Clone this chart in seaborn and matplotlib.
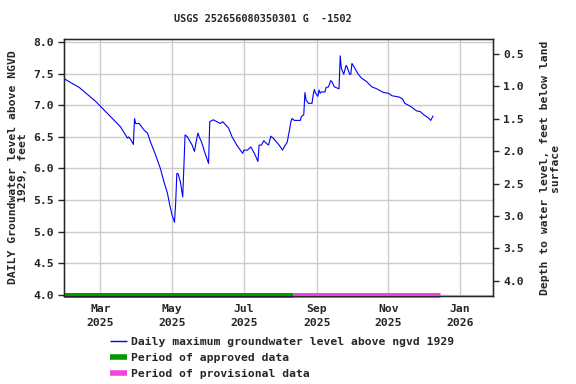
import matplotlib

matplotlib.use("Agg")
import matplotlib.dates as mdates
import matplotlib.pyplot as plt
import pandas as pd
import seaborn as sns
from matplotlib.lines import Line2D

# Daily maximum groundwater level (ft above NGVD 1929)
dates = [
    "2025-01-29", "2025-02-11", "2025-02-25", "2025-03-08", "2025-03-18",
    "2025-03-23", "2025-03-24", "2025-03-25", "2025-03-27", "2025-03-29",
    "2025-03-30", "2025-03-31", "2025-04-03", "2025-04-07", "2025-04-10",
    "2025-04-13", "2025-04-17", "2025-04-21", "2025-04-24", "2025-04-27",
    "2025-04-29", "2025-05-01", "2025-05-03", "2025-05-04", "2025-05-05",
    "2025-05-06", "2025-05-08", "2025-05-10", "2025-05-11", "2025-05-12",
    "2025-05-14", "2025-05-18", "2025-05-20", "2025-05-22", "2025-05-23",
    "2025-05-24", "2025-05-26", "2025-05-29", "2025-06-01", "2025-06-02",
    "2025-06-05", "2025-06-08", "2025-06-11", "2025-06-13", "2025-06-15",
    "2025-06-18", "2025-06-21", "2025-06-25", "2025-06-28", "2025-06-30",
    "2025-07-01", "2025-07-04", "2025-07-07", "2025-07-10", "2025-07-13",
    "2025-07-14", "2025-07-16", "2025-07-18", "2025-07-20", "2025-07-22",
    "2025-07-24", "2025-07-26", "2025-07-31", "2025-08-03", "2025-08-04",
    "2025-08-07", "2025-08-08", "2025-08-09", "2025-08-10", "2025-08-11",
    "2025-08-13", "2025-08-18", "2025-08-19", "2025-08-21", "2025-08-22",
    "2025-08-23", "2025-08-25", "2025-08-28", "2025-08-29", "2025-08-30",
    "2025-08-31", "2025-09-02", "2025-09-03", "2025-09-04", "2025-09-05",
    "2025-09-08", "2025-09-09", "2025-09-11", "2025-09-13", "2025-09-14",
    "2025-09-16", "2025-09-20", "2025-09-21", "2025-09-22", "2025-09-24",
    "2025-09-26", "2025-09-27", "2025-09-29", "2025-09-30", "2025-10-01",
    "2025-10-03", "2025-10-06", "2025-10-09", "2025-10-13", "2025-10-18",
    "2025-10-22", "2025-10-28", "2025-11-01", "2025-11-04", "2025-11-10",
    "2025-11-13", "2025-11-15", "2025-11-20", "2025-11-25", "2025-11-28",
    "2025-12-01", "2025-12-05", "2025-12-07", "2025-12-09",
]
levels = [
    7.42, 7.28, 7.06, 6.85, 6.66,
    6.51, 6.48, 6.50, 6.45, 6.38,
    6.79, 6.71, 6.71, 6.61, 6.56,
    6.40, 6.21, 6.00, 5.79, 5.61,
    5.42, 5.26, 5.15, 5.45, 5.92,
    5.92, 5.79, 5.55, 6.03, 6.53,
    6.50, 6.37, 6.27, 6.48, 6.56,
    6.50, 6.42, 6.24, 6.08, 6.74,
    6.77, 6.74, 6.71, 6.74, 6.70,
    6.64, 6.50, 6.37, 6.29, 6.24,
    6.29, 6.29, 6.34, 6.24, 6.11,
    6.37, 6.37, 6.44, 6.40, 6.37,
    6.51, 6.48, 6.37, 6.29, 6.33,
    6.42, 6.53, 6.62, 6.74, 6.79,
    6.76, 6.76, 6.82, 6.85, 7.20,
    7.08, 7.03, 7.03, 7.16, 7.25,
    7.19, 7.14, 7.24, 7.19, 7.21,
    7.21, 7.28, 7.29, 7.39, 7.37,
    7.29, 7.26, 7.78, 7.58, 7.49,
    7.63, 7.60, 7.49, 7.49, 7.66,
    7.60, 7.50, 7.43, 7.38, 7.29,
    7.26, 7.20, 7.19, 7.15, 7.13,
    7.10, 7.03, 6.98, 6.91, 6.90,
    6.85, 6.80, 6.76, 6.83,
]

approved_period = ["2025-01-29", "2025-08-12"]
provisional_period = ["2025-08-12", "2025-12-15"]

x_start, x_end = "2025-01-29", "2026-01-29"
x_ticks = ["2025-03-01", "2025-05-01", "2025-07-01", "2025-09-01", "2025-11-01", "2026-01-01"]
left_ticks = [4.0, 4.5, 5.0, 5.5, 6.0, 6.5, 7.0, 7.5, 8.0]
right_ticks = [0.5, 1.0, 1.5, 2.0, 2.5, 3.0, 3.5, 4.0]

BLUE = "#0000ff"
GREEN = "#009900"
PINK = "#ee44dd"
GRID = "#cccccc"

sns.set_style("white")
plt.rcParams["font.family"] = ["DejaVu Sans Mono"]
plt.rcParams["font.weight"] = "bold"
FS = 8.2

df = pd.DataFrame({"date": pd.to_datetime(dates), "level": levels})

fig = plt.figure(figsize=(5.76, 3.84), dpi=100)
ax = fig.add_axes([64 / 576, 1 - 296 / 384, 429 / 576, 257 / 384])

sns.lineplot(data=df, x="date", y="level", ax=ax, color=BLUE, linewidth=0.8)

ax.plot(pd.to_datetime(approved_period), [4.0, 4.0], color=GREEN, linewidth=3.6,
        solid_capstyle="butt", clip_on=False, zorder=5)
ax.plot(pd.to_datetime(provisional_period), [4.0, 4.0], color=PINK, linewidth=3.6,
        solid_capstyle="butt", clip_on=False, zorder=5)

ax.set_xlim(pd.Timestamp(x_start), pd.Timestamp(x_end))
ax.set_ylim(3.984, 8.047)
ax.set_xticks(pd.to_datetime(x_ticks))
ax.xaxis.set_major_formatter(mdates.DateFormatter("%b\n%Y"))
ax.set_yticks(left_ticks)
ax.set_yticklabels([f"{v:.1f}" for v in left_ticks])
ax.grid(True, color=GRID, linewidth=1.0)
ax.set_axisbelow(True)
ax.tick_params(axis="x", length=0, pad=6, labelsize=FS)
ax.tick_params(axis="y", length=4, width=1, labelsize=FS, direction="out", left=True)
for lbl in ax.get_xticklabels():
    lbl.set_linespacing(1.4)
for s in ax.spines.values():
    s.set_color("black")
    s.set_linewidth(1.0)
ax.set_xlabel("")
ax.set_ylabel("DAILY Groundwater level above NGVD\n1929, feet", fontsize=FS,
              fontweight="bold", linespacing=1.0, va="center")
ax.yaxis.set_label_coords(-0.107, 0.5)

ax2 = ax.twinx()
ax2.set_ylim(4.236, 0.268)
ax2.set_yticks(right_ticks)
ax2.set_yticklabels([f"{v:.1f}" for v in right_ticks])
ax2.tick_params(axis="y", length=4, width=1, labelsize=FS, direction="out", right=True)
ax2.set_ylabel("Depth to water level, feet below land\nsurface", fontsize=FS,
               fontweight="bold", linespacing=1.0, va="center")
ax2.yaxis.set_label_coords(1.133, 0.5)
ax2.grid(False)

fig.text(263 / 576, 1 - 19 / 384, "USGS 252656080350301 G  -1502", ha="center",
         va="center", fontsize=7.4, fontweight="bold")

handles = [
    Line2D([], [], color=BLUE, linewidth=1.0, solid_capstyle="butt"),
    Line2D([], [], color=GREEN, linewidth=4, solid_capstyle="butt"),
    Line2D([], [], color=PINK, linewidth=4, solid_capstyle="butt"),
]
labels = [
    "Daily maximum groundwater level above ngvd 1929",
    "Period of approved data",
    "Period of provisional data",
]
fig.legend(handles, labels, loc="upper left", bbox_to_anchor=(104 / 576, 1 - 331 / 384),
           frameon=False, fontsize=FS, handlelength=1.5, handletextpad=0.4,
           labelspacing=0.55, borderpad=0)

fig.savefig("out.png", dpi=100)
